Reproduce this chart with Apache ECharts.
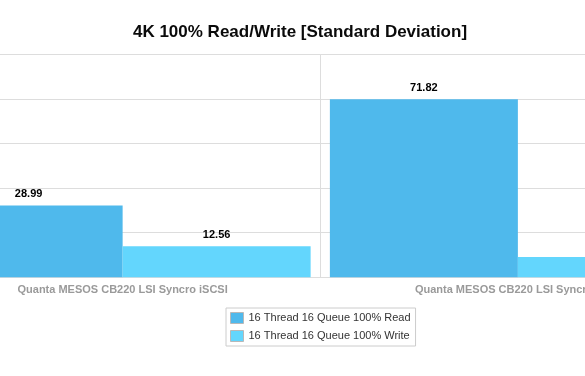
<!DOCTYPE html>
<html>
<head>
<meta charset="utf-8">
<script src="https://cdn.jsdelivr.net/npm/echarts@6/dist/echarts.min.js"></script>
<style>
html,body{margin:0;padding:0;background:#fff;overflow:hidden;}
#wrap{position:relative;width:585px;height:376px;overflow:hidden;}
#chart{position:absolute;left:-100px;top:0;width:900px;height:376px;}
</style>
</head>
<body>
<div id="wrap"><div id="chart"></div></div>
<script>
const titleText = '4K 100% Read/Write [Standard Deviation]';
const categories = ['Quanta MESOS CB220 LSI Syncro iSCSI', 'Quanta MESOS CB220 LSI Syncro SMB'];
const seriesNames = ['16 Thread 16 Queue 100% Read', '16 Thread 16 Queue 100% Write'];
const readValues = [28.99, 71.82];
const writeValues = [12.56, 8.2];
const yTicks = [0, 18, 36, 54, 72, 90];

const FONT = '"Liberation Sans", Helvetica, Arial, sans-serif';
const colors = ['#4fb9ec', '#63d6fd'];
const OFF = 100; // chart canvas starts 100px left of the visible window

const chart = echarts.init(document.getElementById('chart'), null, {renderer: 'canvas'});
chart.setOption({
  animation: false,
  textStyle: {fontFamily: FONT},
  title: {
    text: titleText,
    left: 295 + OFF, top: 19,
    textAlign: 'center',
    textStyle: {fontFamily: FONT, fontSize: 17, fontWeight: 'bold', color: '#0a0a0a'}
  },
  legend: {
    orient: 'vertical',
    left: 226 + OFF, top: 308,
    padding: [4, 5, 4, 4],
    itemWidth: 13, itemHeight: 11, itemGap: 6,
    borderColor: '#cccccc', borderWidth: 1,
    textStyle: {fontFamily: FONT, fontSize: 11, color: '#333'},
    data: seriesNames.map((n, i) => ({name: n, icon: 'rect', itemStyle: {color: colors[i], borderColor: '#b8b8b8', borderWidth: 1}}))
  },
  grid: {left: OFF - 75, right: 900 - OFF - 715.5, top: 54.3, bottom: 98.7, containLabel: false},
  xAxis: {
    type: 'category',
    data: categories,
    axisLine: {show: true, lineStyle: {color: '#dddddd', width: 1}},
    axisTick: {show: false},
    splitLine: {show: true, lineStyle: {color: '#dddddd', width: 1}},
    axisLabel: {margin: 7, fontFamily: FONT, fontSize: 11, fontWeight: 'bold', color: '#9a9a9a', interval: 0}
  },
  yAxis: {
    type: 'value',
    min: yTicks[0], max: yTicks[yTicks.length - 1], interval: yTicks[1] - yTicks[0],
    axisLabel: {show: false},
    axisLine: {show: false},
    axisTick: {show: false},
    splitLine: {show: true, lineStyle: {color: '#dddddd', width: 1}}
  },
  series: [
    {
      name: seriesNames[0], type: 'bar', data: readValues,
      barWidth: 188, barGap: '0%',
      itemStyle: {color: colors[0]},
      label: {show: true, position: 'top', distance: 6, fontFamily: FONT, fontSize: 11, fontWeight: 'bold', color: '#000',
        formatter: p => p.value.toFixed(2)}
    },
    {
      name: seriesNames[1], type: 'bar', data: writeValues,
      barWidth: 188, barGap: '0%',
      itemStyle: {color: colors[1]},
      label: {show: true, position: 'top', distance: 6, fontFamily: FONT, fontSize: 11, fontWeight: 'bold', color: '#000',
        formatter: p => p.value.toFixed(2)}
    }
  ]
});
</script>
</body>
</html>
